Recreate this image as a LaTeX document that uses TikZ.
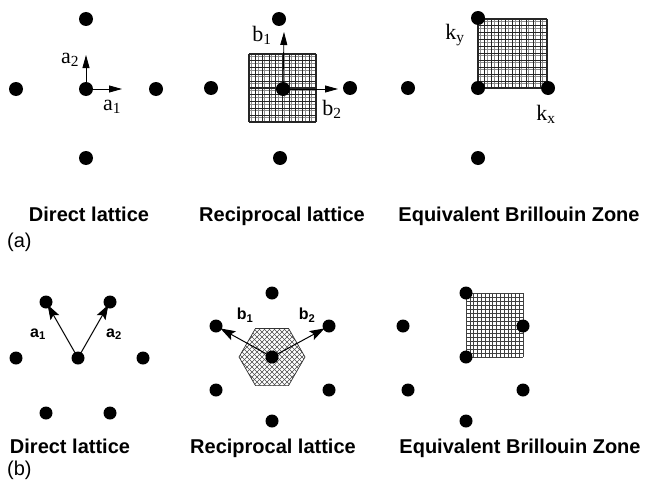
\documentclass[tikz,border=0pt]{standalone}
\usepackage{fontspec}
\setmainfont{Liberation Serif}
\newfontfamily\hvf{Liberation Sans}
\usetikzlibrary{arrows.meta}
\begin{document}
\begin{tikzpicture}[x=1pt,y=-1pt,
 dot/.style={circle,fill=black,inner sep=0pt,minimum size=14pt},
 sdot/.style={circle,fill=black,inner sep=0pt,minimum size=13pt},
 vecA/.style={line width=0.8pt,-{Triangle[length=13pt,width=7pt]}},
 vecB/.style={line width=1pt,-{Stealth[length=15pt,width=10pt,inset=3pt]}},
 lbl/.style={font=\fontsize{22}{22}\selectfont,inner sep=0pt},
 blbl/.style={font=\hvf\bfseries\fontsize{16}{16}\selectfont,inner sep=0pt},
 captxt/.style={font=\hvf\bfseries\fontsize{20}{20}\selectfont,inner sep=0pt,anchor=base},
 tagtxt/.style={font=\hvf\fontsize{20}{20}\selectfont,inner sep=0pt,anchor=base west},
 mesh/.style={line width=1.1pt,black!85},
 meshlite/.style={line width=0.6pt,black!45},
 fine/.style={line width=0.55pt,black!75},
 hatch/.style={line width=0.5pt,black!70},
]
\useasboundingbox (0,0) rectangle (647,487);

% ---------- meshes ----------
\foreach \k in {0,...,9} {
  \draw[meshlite] ({251.2+6.7*\k},54) -- ({251.2+6.7*\k},122);
  \draw[meshlite] (249,{56.2+6.8*\k}) -- (316,{56.2+6.8*\k});
  \draw[meshlite] ({480.3+6.9*\k},19) -- ({480.3+6.9*\k},88);
  \draw[meshlite] (478,{21.3+6.9*\k}) -- (547,{21.3+6.9*\k});
}
\foreach \k in {0,...,10} {
  \draw[mesh] ({249+6.7*\k},54) -- ({249+6.7*\k},122);
  \draw[mesh] (249,{54+6.8*\k}) -- (316,{54+6.8*\k});
  \draw[mesh] ({478+6.9*\k},19) -- ({478+6.9*\k},88);
  \draw[mesh] (478,{19+6.9*\k}) -- (547,{19+6.9*\k});
}
\foreach \k in {0,...,15} {
  \draw[fine] ({466+3.8*\k},293) -- ({466+3.8*\k},357);
}
\foreach \k in {0,...,16} {
  \draw[fine] (466,{293+4*\k}) -- (523,{293+4*\k});
}
\begin{scope}
  \clip (305,357) -- (288.5,328.4) -- (255.5,328.4) -- (239,357) -- (255.5,385.6) -- (288.5,385.6) -- cycle;
  \foreach \i in {-65,-60,...,65} {
    \draw[hatch] ({272+\i-30},327) -- ({272+\i+30},387);
    \draw[hatch] ({272+\i+30},327) -- ({272+\i-30},387);
  }
\end{scope}
\draw[line width=0.7pt,black!80] (305,357) -- (288.5,328.4) -- (255.5,328.4) -- (239,357) -- (255.5,385.6) -- (288.5,385.6) -- cycle;

% ---------- (a) direct lattice ----------
\node[dot] (aLl) at (16,89) {};
\node[dot] (aLc) at (86,89) {};
\node[dot] (aLr) at (156,89) {};
\node[dot] (aLt) at (86,19) {};
\node[dot] (aLb) at (86,158) {};
\coordinate (aTip2) at (86,55);
\coordinate (aTip1) at (122,89);
\draw[vecA] (aLc.center) -- (aTip2);
\draw[vecA] (aLc.center) -- (aTip1);
\node[lbl] (la2) at (70,60) {a\textsubscript{2}};
\node[lbl] (la1) at (112,107) {a\textsubscript{1}};

% ---------- (a) reciprocal lattice ----------
\node[dot] (aMl) at (211,88) {};
\node[dot] (aMc) at (283,89) {};
\node[dot] (aMr) at (350,88) {};
\node[dot] (aMt) at (279,19) {};
\node[dot] (aMb) at (280,158) {};
\coordinate (bTip1) at (284,32);
\coordinate (bTip2) at (338,89);
\draw[vecA] (aMc.center) -- (bTip1);
\draw[vecA] (aMc.center) -- (bTip2);
\node[lbl] (lb1) at (262,35) {b\textsubscript{1}};
\node[lbl] (lb2) at (332,109) {b\textsubscript{2}};

% ---------- (a) equivalent BZ ----------
\node[dot] (aRl) at (408,88) {};
\node[dot] (aRc) at (478,88) {};
\node[dot] (aRr) at (548,88) {};
\node[dot] (aRt) at (478,18) {};
\node[dot] (aRb) at (478,158) {};
\node[lbl] (lky) at (455,35) {k\textsubscript{y}};
\node[lbl] (lkx) at (546,114) {k\textsubscript{x}};

% ---------- (b) direct lattice ----------
\node[sdot] (bLtl) at (46,302) {};
\node[sdot] (bLtr) at (110,302) {};
\node[sdot] (bLl) at (16,358) {};
\node[sdot] (bLc) at (78,358) {};
\node[sdot] (bLr) at (143,358) {};
\node[sdot] (bLbl) at (46,413) {};
\node[sdot] (bLbr) at (110,413) {};
\draw[vecB,shorten >=3pt] (bLc.center) -- (bLtl.center);
\draw[vecB,shorten >=3pt] (bLc.center) -- (bLtr.center);
\node[blbl] (lba1) at (38,334) {a\textsubscript{1}};
\node[blbl] (lba2) at (114,334) {a\textsubscript{2}};

% ---------- (b) reciprocal lattice ----------
\node[sdot] (bMt) at (272,293) {};
\node[sdot] (bMul) at (216,326) {};
\node[sdot] (bMur) at (329,326) {};
\node[sdot] (bMc) at (272,357) {};
\node[sdot] (bMll) at (216,390) {};
\node[sdot] (bMlr) at (329,390) {};
\node[sdot] (bMb) at (272,421) {};
\draw[vecB,shorten >=5pt] (bMc.center) -- (bMul.center);
\draw[vecB,shorten >=5pt] (bMc.center) -- (bMur.center);
\node[blbl] (lbb1) at (245,315) {b\textsubscript{1}};
\node[blbl] (lbb2) at (307,315) {b\textsubscript{2}};

% ---------- (b) equivalent BZ ----------
\node[sdot] (bRt) at (466,293) {};
\node[sdot] (bRul) at (403,326) {};
\node[sdot] (bRur) at (523,326) {};
\node[sdot] (bRc) at (466,357) {};
\node[sdot] (bRll) at (408,390) {};
\node[sdot] (bRlr) at (523,390) {};
\node[sdot] (bRb) at (466,421) {};

% ---------- captions ----------
\node[captxt] (ca1) at (89,221) {Direct lattice};
\node[captxt] (ca2) at (282,221) {Reciprocal lattice};
\node[captxt] (ca3) at (519,221) {Equivalent Brillouin Zone};
\node[tagtxt] (taga) at (7,247) {(a)};
\node[captxt] (cb1) at (70,453) {Direct lattice};
\node[captxt] (cb2) at (273,453) {Reciprocal lattice};
\node[captxt] (cb3) at (520,453) {Equivalent Brillouin Zone};
\node[tagtxt] (tagb) at (7,475) {(b)};
\end{tikzpicture}
\end{document}
